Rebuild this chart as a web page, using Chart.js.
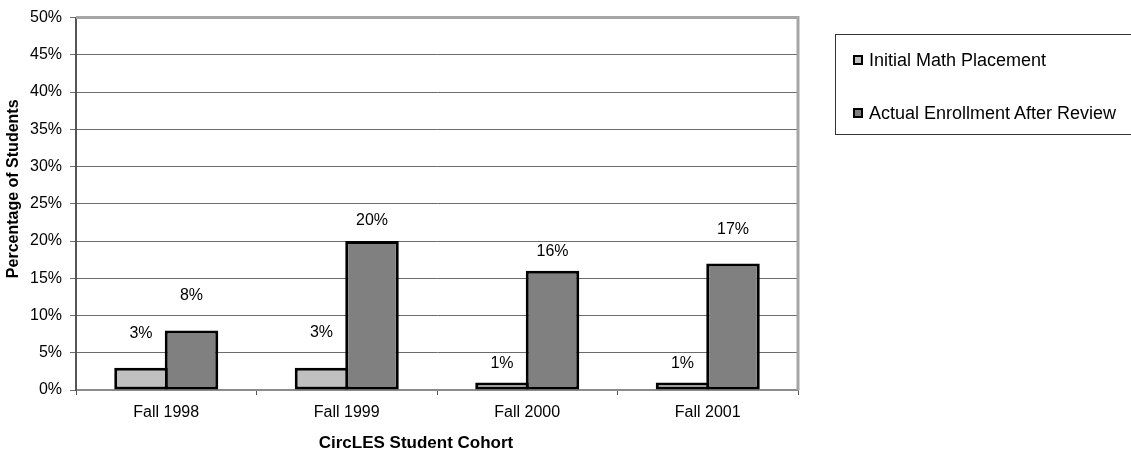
<!DOCTYPE html>
<html>
<head>
<meta charset="utf-8">
<script src="https://cdn.jsdelivr.net/npm/chart.js@4"></script>
<style>
  html, body { margin: 0; padding: 0; background: #fff; }
  #wrap { position: relative; width: 1131px; height: 454px; overflow: hidden; }
  #legend {
    position: absolute; left: 835px; top: 34px; width: 310px; height: 101px;
    border: 1px solid #333; box-sizing: border-box;
    font: 18px "Liberation Sans", Arial, sans-serif; color: #000;
  }
  .item { position: absolute; left: 17px; height: 20px; display: flex; align-items: center; white-space: nowrap; }
  .box { width: 6px; height: 6px; border: 2px solid #000; margin-right: 6px; }
</style>
</head>
<body>
<div id="wrap">
  <canvas id="chart" width="1131" height="454"></canvas>
  <div id="legend"></div>
</div>
<script>
const cohorts = ["Fall 1998", "Fall 1999", "Fall 2000", "Fall 2001"];
const initialPlacement = [3, 3, 1, 1];
const actualEnrollment = [8, 20, 16, 17];
const seriesNames = ["Initial Math Placement", "Actual Enrollment After Review"];
const xTitle = "CircLES Student Cohort";
const yTitle = "Percentage of Students";

// how high each value label sits above its bar (px), as in the original
const labelLift = [[34, 35, 19, 19], [35, 20, 19, 34]];

const valueLabels = {
  id: 'valueLabels',
  afterDatasetsDraw(chart) {
    const ctx = chart.ctx;
    ctx.save();
    ctx.font = '16px "Liberation Sans", Arial, sans-serif';
    ctx.fillStyle = '#000';
    ctx.textAlign = 'center';
    ctx.textBaseline = 'middle';
    chart.data.datasets.forEach((ds, i) => {
      chart.getDatasetMeta(i).data.forEach((bar, j) => {
        ctx.fillText(ds.data[j] + '%', bar.x, bar.y - labelLift[i][j]);
      });
    });
    ctx.restore();
  }
};

// excel puts the axis titles a bit off the plot centre
const axisTitles = {
  id: 'axisTitles',
  afterDraw(chart) {
    const a = chart.chartArea, ctx = chart.ctx;
    ctx.save();
    ctx.fillStyle = '#000';
    ctx.textAlign = 'center';
    ctx.textBaseline = 'middle';
    ctx.font = 'bold 17px "Liberation Sans", Arial, sans-serif';
    ctx.fillText(xTitle, (a.left + a.right) / 2 - 21, chart.height - 11);
    ctx.font = 'bold 16px "Liberation Sans", Arial, sans-serif';
    ctx.translate(14, (a.top + a.bottom) / 2 - 15);
    ctx.rotate(-Math.PI / 2);
    ctx.fillText(yTitle, 0, 0);
    ctx.restore();
  }
};

const frame = {
  id: 'frame',
  beforeDatasetsDraw(chart) {
    const a = chart.chartArea, ctx = chart.ctx;
    ctx.save();
    ctx.strokeStyle = '#a6a6a6';
    ctx.lineWidth = 3;
    ctx.beginPath();
    ctx.moveTo(a.left, a.top);
    ctx.lineTo(a.right, a.top);
    ctx.lineTo(a.right, a.bottom);
    ctx.stroke();
    ctx.restore();
  }
};

Chart.defaults.font.family = '"Liberation Sans", Arial, sans-serif';
Chart.defaults.font.size = 16;
Chart.defaults.color = '#000';

new Chart(document.getElementById('chart'), {
  type: 'bar',
  data: {
    labels: cohorts,
    datasets: [{
      label: seriesNames[0],
      data: initialPlacement,
      backgroundColor: '#c0c0c0',
      borderColor: '#000',
      borderWidth: 3,
      borderSkipped: false
    }, {
      label: seriesNames[1],
      data: actualEnrollment,
      backgroundColor: '#808080',
      borderColor: '#000',
      borderWidth: 3,
      borderSkipped: false
    }]
  },
  options: {
    responsive: false,
    animation: false,
    events: [],
    categoryPercentage: 0.5596,
    barPercentage: 1.06,
    layout: { padding: { top: 16, right: 333, left: 0, bottom: 0 } },
    plugins: { legend: { display: false }, tooltip: { enabled: false } },
    scales: {
      x: {
        grid: { drawOnChartArea: false, drawTicks: true, tickLength: 5, color: '#555' },
        border: { color: '#8c8c8c', width: 2 },
        ticks: { padding: 8 },
        afterFit(scale) { scale.height = 64; }
      },
      y: {
        min: 0, max: 50,
        grid: { color: '#6b6b6b', tickLength: 6 },
        border: { color: '#555', width: 2 },
        ticks: { stepSize: 5, padding: 8, callback: v => v + '%' },
        afterFit(scale) { scale.width = 76; }
      }
    }
  },
  plugins: [frame, valueLabels, axisTitles]
});

const legend = document.getElementById('legend');
const fills = ['#c0c0c0', '#808080'];
const tops = [15, 68];
seriesNames.forEach((name, i) => {
  const it = document.createElement('div');
  it.className = 'item';
  it.style.top = tops[i] + 'px';
  it.innerHTML = '<span class="box" style="background:' + fills[i] + '"></span><span>' + name + '</span>';
  legend.appendChild(it);
});
</script>
</body>
</html>
